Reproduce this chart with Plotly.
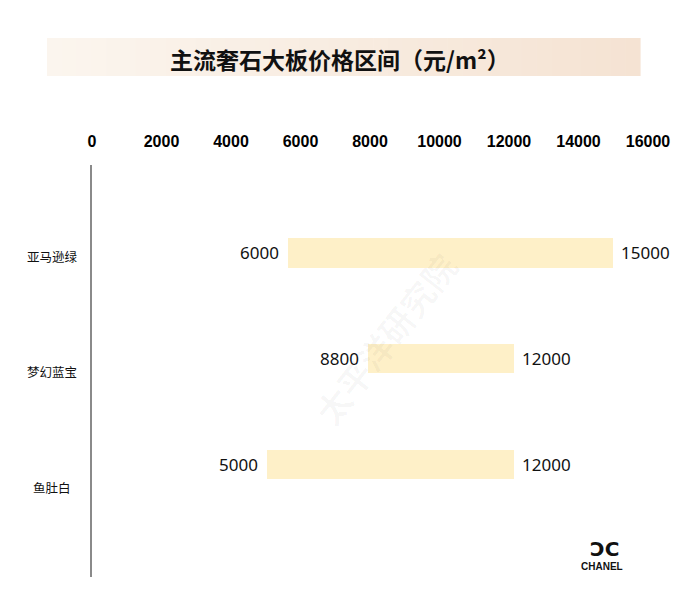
import plotly.graph_objects as go

# ---- data ----
categories = ["亚马逊绿", "梦幻蓝宝", "鱼肚白"]
low_values = [5650, 7950, 5050]          # bar start as drawn
high_values = [15000, 12150, 12150]      # bar end as drawn
low_labels = ["6000", "8800", "5000"]
high_labels = ["15000", "12000", "12000"]
x_ticks = [0, 2000, 4000, 6000, 8000, 10000, 12000, 14000, 16000]
title_text = "主流奢石大板价格区间（元/m²）"

pos = list(range(len(categories)))
widths = [h - l for h, l in zip(high_values, low_values)]

OFF = 8  # page offset of the figure inside the browser window
W, H = 688, 616
# plot area in page pixels: x 92..648, y 165..577
L = 92 - OFF
T = 165 - OFF
R = W - (648 - OFF)
B = H - (577 - OFF)
PW, PH = W - L - R, H - T - B


def px(x):
    return (x - OFF - L) / PW


def py(y):
    return 1 - (y - OFF - T) / PH


fig = go.Figure()
fig.add_trace(go.Bar(
    y=pos, x=widths, base=low_values, orientation="h",
    marker=dict(color="#fef0c8", line=dict(width=0)),
    width=0.275, hoverinfo="skip", showlegend=False,
))
# invisible trace carrying the category-label axis
fig.add_trace(go.Scatter(
    x=[0] * len(categories), y=pos, yaxis="y2", mode="markers",
    marker=dict(opacity=0), hoverinfo="skip", showlegend=False,
))

label_font = dict(family="Noto Sans, DejaVu Sans, sans-serif", size=17, color="#111")
annotations = []
for p, lo, hi, lt, ht in zip(pos, low_values, high_values, low_labels, high_labels):
    annotations.append(dict(x=lo, y=p, xref="x", yref="y", text=lt, showarrow=False,
                            xanchor="right", yanchor="middle", xshift=-7, font=label_font))
    annotations.append(dict(x=hi, y=p, xref="x", yref="y", text=ht, showarrow=False,
                            xanchor="left", yanchor="middle", xshift=6, font=label_font))
# category labels, centred
for p, c in zip(pos, categories):
    annotations.append(dict(x=px(52), y=p, xref="paper", yref="y2", text=c, showarrow=False,
                            xanchor="center", yanchor="middle",
                            font=dict(family="Noto Sans CJK SC, sans-serif", size=12.5, color="#111")))

# title
annotations.append(dict(x=px(340), y=py(59), xref="paper", yref="paper", text="<b>" + title_text + "</b>",
                        showarrow=False, xanchor="center", yanchor="middle",
                        font=dict(family="Noto Sans CJK SC, sans-serif", size=23, color="#111")))
# watermark
annotations.append(dict(x=px(385), y=py(338), xref="paper", yref="paper", text="<b>太平洋研究院</b>",
                        showarrow=False, textangle=-52, xanchor="center", yanchor="middle",
                        font=dict(family="Noto Sans CJK SC, serif", size=34, color="rgba(0,0,0,0.03)")))
# logo text
annotations.append(dict(x=px(604), y=py(549), xref="paper", yref="paper", text="<b>ƆC</b>",
                        showarrow=False, xanchor="center", yanchor="middle",
                        font=dict(family="DejaVu Sans", size=20, color="#111")))
annotations.append(dict(x=px(602), y=py(566), xref="paper", yref="paper", text="<b>CHANEL</b>",
                        showarrow=False, xanchor="center", yanchor="middle",
                        font=dict(family="Liberation Sans", size=10, color="#111")))

# title gradient box (strips)
shapes = []
n = 40
x0p, x1p, y0p, y1p = 47, 640, 38, 76
c0 = (251, 245, 238)
c1 = (245, 227, 211)
for i in range(n):
    t = i / (n - 1)
    c = tuple(round(c0[k] + (c1[k] - c0[k]) * t) for k in range(3))
    xa = x0p + (x1p - x0p) * i / n
    xb = x0p + (x1p - x0p) * (i + 1) / n + 0.6
    shapes.append(dict(type="rect", xref="paper", yref="paper",
                       x0=px(xa), x1=px(xb), y0=py(y1p), y1=py(y0p),
                       fillcolor="rgb(%d,%d,%d)" % c, line=dict(width=0), layer="below"))

fig.update_layout(
    width=W, height=H,
    margin=dict(l=L, r=R, t=T, b=B),
    paper_bgcolor="white", plot_bgcolor="white",
    bargap=0,
    xaxis=dict(
        side="top", range=[0, 16000], tickvals=x_ticks,
        ticktext=[str(v) for v in x_ticks],
        showgrid=False, zeroline=False, showline=False,
        ticks="outside", ticklen=11, tickcolor="rgba(0,0,0,0)",
        tickfont=dict(family="Liberation Sans, Arial, sans-serif", size=16, color="#000", weight="bold"),
        fixedrange=True,
    ),
    yaxis=dict(
        range=[3.071, -0.834], showticklabels=False, showgrid=False, zeroline=False,
        showline=True, linecolor="#8a8a8a", linewidth=2, ticks="",
    ),
    yaxis2=dict(
        overlaying="y", side="left", range=[2.779, -0.788],
        showticklabels=False, showgrid=False, zeroline=False, showline=False, ticks="",
    ),
    annotations=annotations,
    shapes=shapes,
)

fig.write_html("out.html")
